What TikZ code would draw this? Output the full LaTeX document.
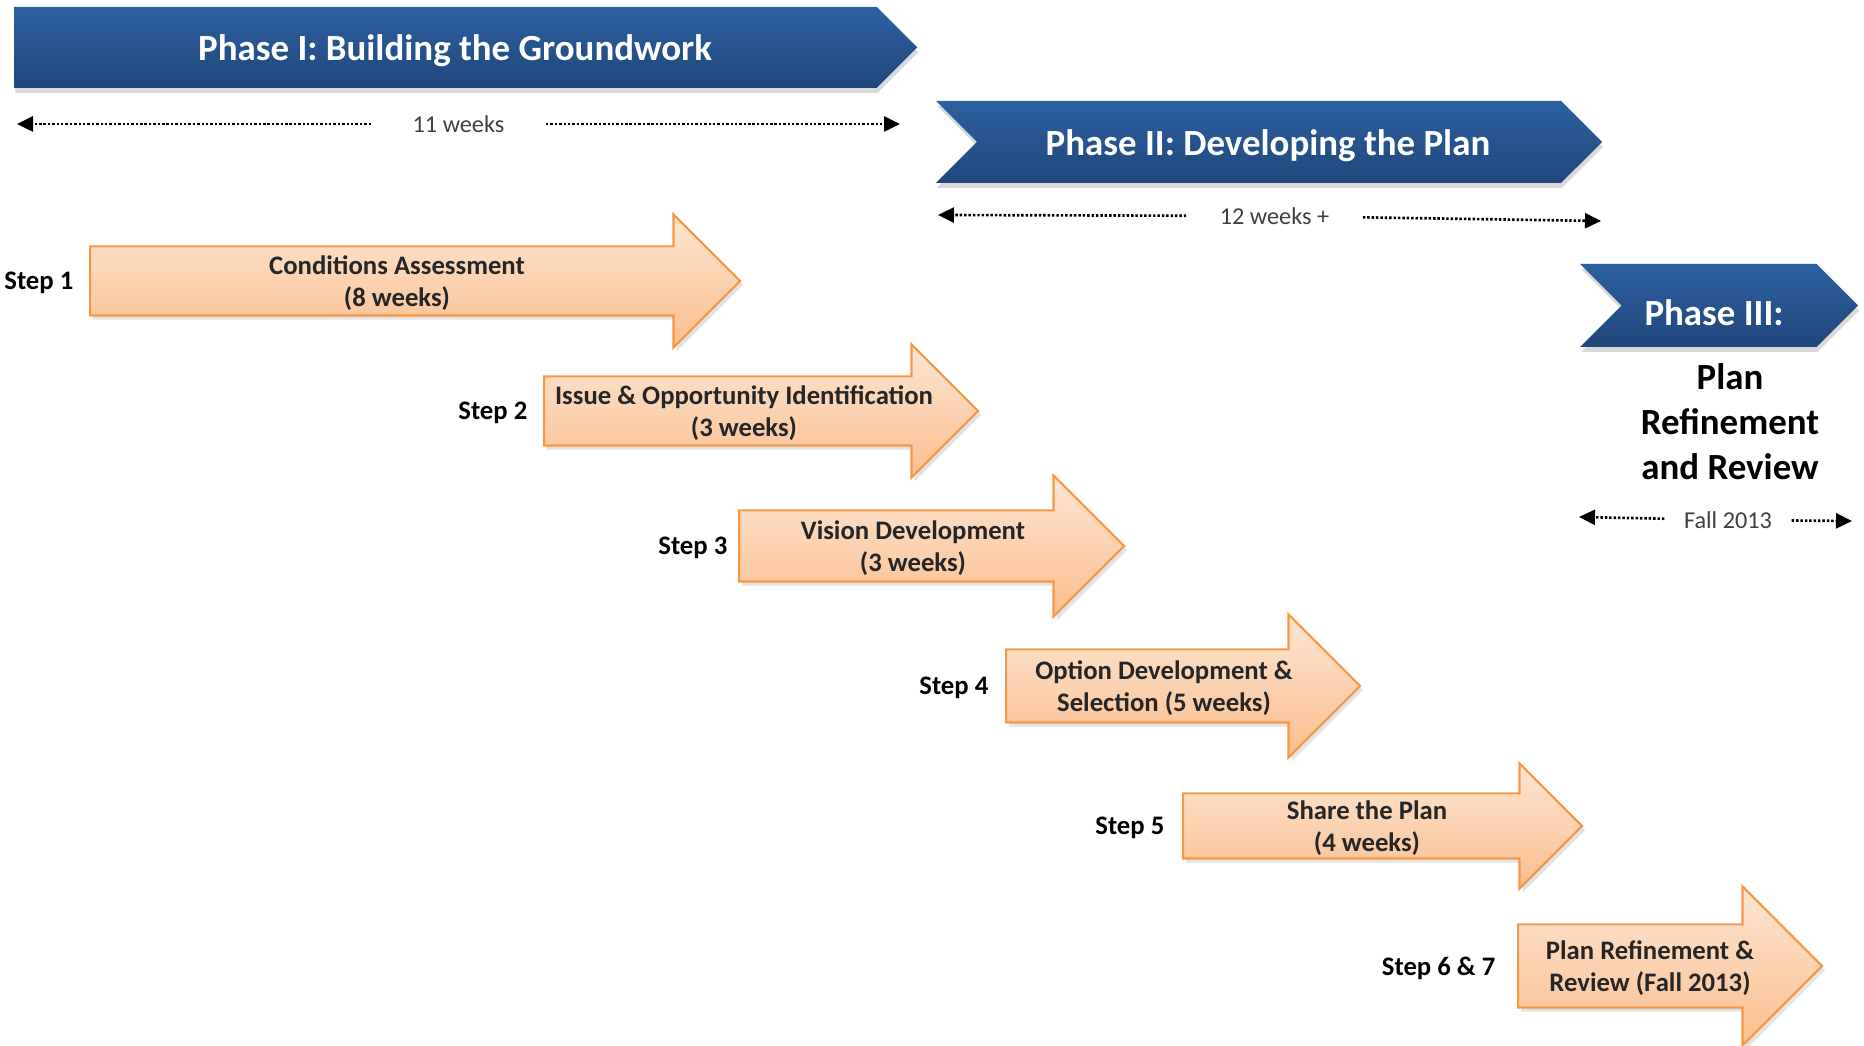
\documentclass[tikz,border=0pt]{standalone}
\usepackage{fontspec}
\setmainfont{Carlito}
\usetikzlibrary{arrows.meta, positioning, shapes.arrows, shapes.symbols, shadows}
\definecolor{phasetop}{RGB}{44,97,161}
\definecolor{phasebot}{RGB}{31,70,122}
\definecolor{stepline}{RGB}{247,150,70}
\definecolor{steptop}{RGB}{253,230,210}
\definecolor{stepbot}{RGB}{250,190,142}
\definecolor{stepink}{RGB}{38,38,38}
\definecolor{durink}{RGB}{64,64,64}

\begin{document}
\begin{tikzpicture}[
  phase/.style={signal, signal to=east, signal pointer angle=90, draw=none,
                top color=phasetop, bottom color=phasebot, inner sep=0pt,
                drop shadow={shadow xshift=0.01cm, shadow yshift=-0.05cm, opacity=0.3}},
  phasetext/.style={text=white, font=\fontsize{10.5}{12.6}\selectfont\bfseries},
  phasenote/.style={align=center, font=\fontsize{10.5}{12.8}\selectfont\bfseries},
  stepbox/.style={single arrow, anchor=tail, draw=stepline, line width=0.6pt,
                  top color=steptop, bottom color=stepbot,
                  inner xsep=0pt, inner ysep=0.335cm, single arrow head extend=0.32cm,
                  drop shadow={shadow xshift=0.03cm, shadow yshift=-0.04cm, opacity=0.22}},
  steptext/.style={align=center, text=stepink, yshift=-0.02cm,
                   font=\fontsize{7.6}{9.1}\selectfont\bfseries},
  steplabel/.style={inner sep=0pt, yshift=-0.02cm, font=\fontsize{7.6}{9.1}\selectfont\bfseries},
  dur/.style={fill=white, inner ysep=1pt, text=durink, font=\fontsize{6.9}{8.3}\selectfont},
  span/.style={-{Triangle[length=0.16cm, width=0.15cm]}, line width=0.75pt,
               dash pattern=on 0.7pt off 0.55pt}
]
  \useasboundingbox (0,0) rectangle (18.64,-10.46);

  % phase banners
  \node[phase, minimum width=9.03cm, minimum height=0.81cm] (ph1) at (4.455,-0.475) {};
  \node[phasetext] (ph1t) at (4.55,-0.51) {Phase I: Building the Groundwork};
  \node[phase, signal from=west, minimum width=6.66cm, minimum height=0.82cm] (ph2) at (12.69,-1.42) {};
  \node[phasetext] (ph2t) at (12.68,-1.46) {Phase II: Developing the Plan};
  \node[phase, signal from=west, minimum width=2.78cm, minimum height=0.83cm] (ph3) at (17.19,-3.055) {};
  \node[phasetext] (ph3t) at (17.14,-3.13) {Phase III:};
  \node[phasenote] (ph3n) at (17.30,-4.22) {Plan\\Refinement\\and Review};

  % durations
  \node[dur, inner xsep=0.41cm] (d1) at (4.585,-1.24) {11 weeks};
  \coordinate (d1a) at (0.17,-1.24);
  \coordinate (d1b) at (9.00,-1.24);
  \draw[span] (d1) -- (d1a);
  \draw[span] (d1) -- (d1b);

  \node[dur, inner xsep=0.33cm] (d2) at (12.745,-2.16) {12 weeks +};
  \coordinate (d2a) at (9.38,-2.15);
  \coordinate (d2b) at (16.01,-2.21);
  \draw[span] (d2) -- (d2a);
  \draw[span] (d2) -- (d2b);

  \node[dur, inner xsep=0.19cm] (d3) at (17.28,-5.20) {Fall 2013};
  \coordinate (d3a) at (15.79,-5.17);
  \coordinate (d3b) at (18.52,-5.21);
  \draw[span] (d3) -- (d3a);
  \draw[span] (d3) -- (d3b);

  % steps
  \node[stepbox, minimum height=6.50cm] (s1) at (0.89,-2.81) {};
  \node[stepbox, minimum height=4.34cm] (s2) at (5.43,-4.11) {};
  \node[stepbox, minimum height=3.85cm, inner ysep=0.345cm,
        single arrow head extend=0.35cm] (s3) at (7.38,-5.46) {};
  \node[stepbox, minimum height=3.54cm, inner ysep=0.355cm,
        single arrow head extend=0.35cm] (s4) at (10.05,-6.86) {};
  \node[stepbox, minimum height=3.99cm, inner ysep=0.315cm,
        single arrow head extend=0.30cm] (s5) at (11.82,-8.26) {};
  \node[stepbox, minimum height=3.04cm, inner ysep=0.405cm,
        single arrow head extend=0.38cm] (s67) at (15.17,-9.66) {};

  \node[steptext] (s1t) at (3.97,-2.81) {Conditions Assessment\\(8 weeks)};
  \node[steptext] (s2t) at (7.44,-4.11) {Issue \& Opportunity Identification\\(3 weeks)};
  \node[steptext] (s3t) at (9.13,-5.46) {Vision Development\\(3 weeks)};
  \node[steptext] (s4t) at (11.64,-6.86) {Option Development \&\\Selection (5 weeks)};
  \node[steptext] (s5t) at (13.67,-8.26) {Share the Plan\\(4 weeks)};
  \node[steptext] (s67t) at (16.50,-9.66) {Plan Refinement \&\\Review (Fall 2013)};

  \node[steplabel, left=0.15cm of s1.tail] (l1) {Step 1};
  \node[steplabel, left=0.15cm of s2.tail] (l2) {Step 2};
  \node[steplabel, left=0.10cm of s3.tail] (l3) {Step 3};
  \node[steplabel, left=0.16cm of s4.tail] (l4) {Step 4};
  \node[steplabel, left=0.17cm of s5.tail] (l5) {Step 5};
  \node[steplabel, left=0.21cm of s67.tail] (l67) {Step 6 \& 7};
\end{tikzpicture}
\end{document}
